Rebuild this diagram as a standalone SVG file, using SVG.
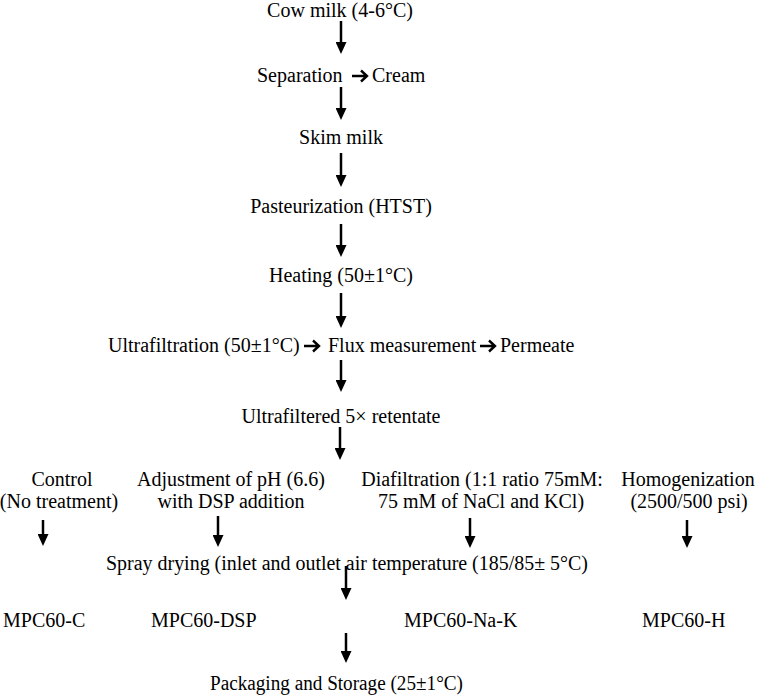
<svg xmlns="http://www.w3.org/2000/svg" width="767" height="697" viewBox="0 0 767 697">
<style>
text{font-family:"Liberation Serif","Times New Roman",serif;font-size:20px;fill:#000}
.m{text-anchor:middle}
.c{stroke:#000;stroke-width:2.5;fill:none}
.h{stroke:#000;stroke-width:2.4;fill:none;stroke-linejoin:miter}
</style>
<defs>
<marker id="ah" markerUnits="userSpaceOnUse" markerWidth="12" markerHeight="11" refX="2" refY="5.5" orient="auto" viewBox="0 0 12 11">
<path d="M0,0 L12,5.5 L0,11 z" fill="#000"/>
</marker>
</defs>
<rect width="767" height="697" fill="#fff"/>
<g id="connectors">
<line class="c" x1="341" y1="21" x2="341" y2="44" marker-end="url(#ah)"/>
<line class="c" x1="341" y1="87" x2="341" y2="110" marker-end="url(#ah)"/>
<line class="c" x1="341" y1="153" x2="341" y2="177" marker-end="url(#ah)"/>
<line class="c" x1="341" y1="224" x2="341" y2="247" marker-end="url(#ah)"/>
<line class="c" x1="341" y1="293" x2="341" y2="318" marker-end="url(#ah)"/>
<line class="c" x1="341" y1="360" x2="341" y2="382" marker-end="url(#ah)"/>
<line class="c" x1="340" y1="427" x2="340" y2="450" marker-end="url(#ah)"/>
<line class="c" x1="43" y1="520" x2="43" y2="536" marker-end="url(#ah)"/>
<line class="c" x1="218" y1="516" x2="218" y2="537" marker-end="url(#ah)"/>
<line class="c" x1="470" y1="518" x2="470" y2="538" marker-end="url(#ah)"/>
<line class="c" x1="687" y1="520" x2="687" y2="538" marker-end="url(#ah)"/>
<line class="c" x1="346" y1="566" x2="346" y2="590" marker-end="url(#ah)"/>
<line class="c" x1="346" y1="633" x2="346" y2="653" marker-end="url(#ah)"/>
<path class="h" d="M352,76 H366 M361,70.5 L367,76 L361,81.5"/>
<path class="h" d="M304,346 H318 M313,340.5 L319,346 L313,351.5"/>
<path class="h" d="M480,346 H494 M489,340.5 L495,346 L489,351.5"/>
</g>
<g id="cow-milk"><text class="m" x="340" y="17">Cow milk (4-6°C)</text></g>
<g id="separation"><text x="257" y="82">Separation</text></g>
<g id="cream"><text x="372" y="82">Cream</text></g>
<g id="skim-milk"><text class="m" x="341" y="144">Skim milk</text></g>
<g id="pasteurization"><text class="m" x="341" y="213">Pasteurization (HTST)</text></g>
<g id="heating"><text class="m" x="341" y="282">Heating (50±1°C)</text></g>
<g id="ultrafiltration"><text x="108" y="352">Ultrafiltration (50±1°C)</text></g>
<g id="flux"><text x="328" y="352">Flux measurement</text></g>
<g id="permeate"><text x="500" y="352">Permeate</text></g>
<g id="retentate"><text class="m" x="341" y="423">Ultrafiltered 5× retentate</text></g>
<g id="control"><text class="m" x="62" y="486">Control</text><text class="m" x="59" y="508">(No treatment)</text></g>
<g id="ph-adjust"><text class="m" x="231" y="486">Adjustment of pH (6.6)</text><text class="m" x="231" y="508">with DSP addition</text></g>
<g id="diafiltration"><text class="m" x="482" y="486">Diafiltration (1:1 ratio 75mM:</text><text class="m" x="481" y="508">75 mM of NaCl and KCl)</text></g>
<g id="homogenization"><text class="m" x="688" y="486">Homogenization</text><text class="m" x="689" y="508">(2500/500 psi)</text></g>
<g id="spray-drying"><text x="106" y="570" textLength="482" lengthAdjust="spacingAndGlyphs">Spray drying (inlet and outlet air temperature (185/85± 5°C)</text></g>
<g id="mpc60-c"><text x="3" y="627">MPC60-C</text></g>
<g id="mpc60-dsp"><text x="151" y="627">MPC60-DSP</text></g>
<g id="mpc60-na-k"><text x="404" y="627">MPC60-Na-K</text></g>
<g id="mpc60-h"><text x="642" y="627">MPC60-H</text></g>
<g id="packaging"><text x="210" y="690" textLength="253" lengthAdjust="spacingAndGlyphs">Packaging and Storage (25±1°C)</text></g>
</svg>
